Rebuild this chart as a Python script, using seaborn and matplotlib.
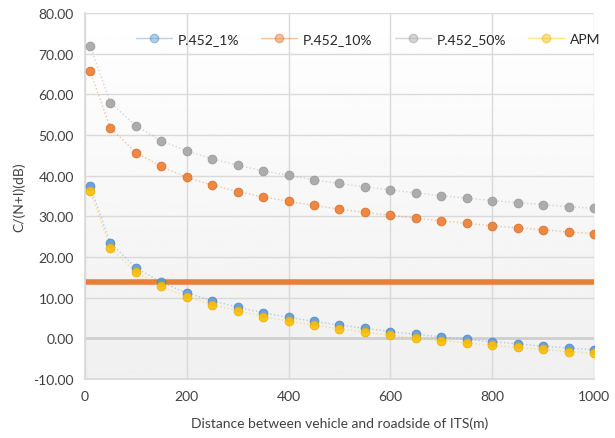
import numpy as np
import pandas as pd
import seaborn as sns
import matplotlib.pyplot as plt
from matplotlib.ticker import FormatStrFormatter

distance = [10, 50, 100, 150, 200, 250, 300, 350, 400, 450, 500,
            550, 600, 650, 700, 750, 800, 850, 900, 950, 1000]
p452_1 = [37.5, 23.5, 17.4, 13.8, 11.2, 9.3, 7.7, 6.3, 5.2, 4.2, 3.3,
          2.5, 1.7, 1.0, 0.4, -0.2, -0.8, -1.3, -1.9, -2.3, -2.8]
p452_10 = [65.8, 51.8, 45.7, 42.3, 39.6, 37.7, 36.1, 34.8, 33.7, 32.7, 31.8,
           31.0, 30.3, 29.6, 28.9, 28.3, 27.7, 27.2, 26.7, 26.2, 25.8]
p452_50 = [72.0, 58.0, 52.3, 48.6, 46.1, 44.2, 42.6, 41.2, 40.1, 39.0, 38.1,
           37.3, 36.5, 35.8, 35.1, 34.5, 33.9, 33.4, 32.9, 32.4, 32.0]
apm = [36.3, 22.3, 16.3, 12.8, 10.3, 8.3, 6.8, 5.4, 4.3, 3.3, 2.4,
       1.6, 0.8, 0.1, -0.5, -1.1, -1.7, -2.2, -2.7, -3.2, -3.6]
threshold = 14.0

series = {'P.452_1%': p452_1, 'P.452_10%': p452_10, 'P.452_50%': p452_50, 'APM': apm}
colors = {'P.452_1%': '#5B9BD5', 'P.452_10%': '#ED7D31', 'P.452_50%': '#A5A5A5', 'APM': '#FFC000'}
edges = {'P.452_1%': '#4A86C0', 'P.452_10%': '#D66A22', 'P.452_50%': '#949494', 'APM': '#E6AC00'}

df = pd.concat([pd.DataFrame({'Distance': distance, 'value': v, 'Model': k})
                for k, v in series.items()], ignore_index=True)

sns.set_theme(style='white')
plt.rcParams['font.family'] = ['Lato', 'DejaVu Sans']

fig = plt.figure(figsize=(6.15, 4.39), dpi=100)
ax = fig.add_axes([0.138, 0.134, 0.828, 0.834])

# light gradient background of the plot area
grad = np.linspace(0.94, 1.0, 256).reshape(-1, 1)
ax.imshow(grad, extent=[0, 1000, -10, 80], aspect='auto', cmap='gray',
          vmin=0, vmax=1, origin='lower', zorder=0)

ax.axhline(threshold, color='#ED7D31', lw=4, zorder=2)

for name in series:
    sub = df[df['Model'] == name]
    sns.lineplot(data=sub, x='Distance', y='value', ax=ax, color=colors[name],
                 lw=1.0, alpha=0.45, ls=':', zorder=3, legend=False)
    ax.plot([], [], color=colors[name], lw=1.0, alpha=0.45, marker='o', ms=6,
            mfc=colors[name], mec=edges[name], label=name)
    sns.scatterplot(data=sub, x='Distance', y='value', ax=ax, color=colors[name],
                    s=40, edgecolor=edges[name], linewidth=0.6, alpha=0.9,
                    zorder=4, legend=False)

ax.set_xlim(0, 1000)
ax.set_ylim(-10, 80)
ax.set_xticks(range(0, 1001, 200))
ax.set_yticks(range(-10, 81, 10))
ax.yaxis.set_major_formatter(FormatStrFormatter('%.2f'))
ax.grid(True, color='#D9D9D9', lw=1)
for line in ax.get_xgridlines() + ax.get_ygridlines():
    line.set_zorder(1)
ax.axhline(0, color='#CFCFCF', lw=2, zorder=1)
for s in ax.spines.values():
    s.set_visible(False)
ax.spines['left'].set_visible(True)
ax.spines['left'].set_color('#D9D9D9')
ax.spines['bottom'].set_visible(True)
ax.spines['bottom'].set_color('#D9D9D9')
ax.tick_params(axis='both', length=0, labelsize=10, colors='#404040', pad=8)

ax.set_xlabel('Distance between vehicle and roadside of ITS(m)', fontsize=10, color='#404040', labelpad=10)
ax.set_ylabel('C/(N+I)(dB)', fontsize=10, color='#404040', labelpad=6)

ax.legend(loc='center', bbox_to_anchor=(0.556, 0.93), ncol=4, frameon=False,
          fontsize=10, handlelength=2.6, columnspacing=1.6, handletextpad=0.4)

fig.savefig('out.png', dpi=100)
